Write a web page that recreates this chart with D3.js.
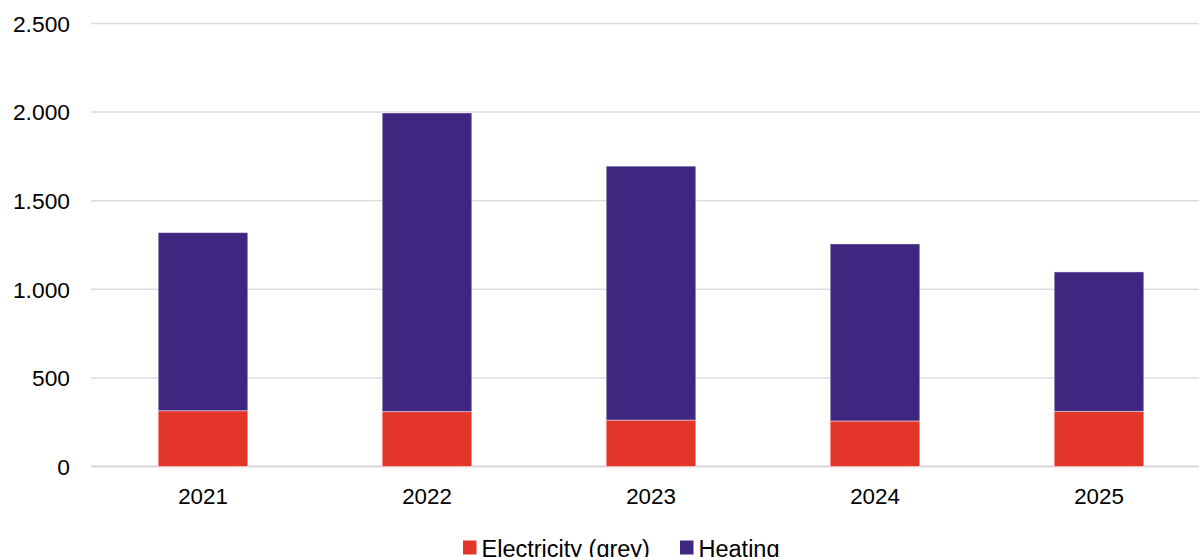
<!DOCTYPE html>
<html>
<head>
<meta charset="utf-8">
<script src="https://cdn.jsdelivr.net/npm/d3@7"></script>
<style>
  html, body { margin: 0; padding: 0; background: #fff; overflow: hidden; }
  svg { display: block; font-family: "Liberation Sans", Arial, sans-serif; }
</style>
</head>
<body>
<svg id="chart" width="1199" height="557"></svg>
<script>
// Yearly emissions split into electricity (grey) and heating
const years = ["2021", "2022", "2023", "2024", "2025"];
const electricity = [315, 310, 262, 257, 311];
const heating = [1005, 1685, 1433, 999, 787];
const yTicks = [0, 500, 1000, 1500, 2000, 2500];
const seriesNames = ["Electricity (grey)", "Heating"];
const seriesColors = ["#E4352A", "#3F2680"];

const svg = d3.select("#chart");
const margin = { left: 91, right: -12, top: 23.5, bottom: 90.5 };
const width = 1199, height = 557;

const x = d3.scaleBand()
  .domain(years)
  .range([margin.left, width - margin.right])
  .paddingInner(0.6)
  .paddingOuter(0.3);

const y = d3.scaleLinear()
  .domain([0, 2500])
  .range([height - margin.bottom, margin.top]);

const fmt = d3.formatLocale({ decimal: ",", thousands: ".", grouping: [3], currency: ["", ""] }).format(",");

// horizontal gridlines
svg.append("g")
  .selectAll("line")
  .data(yTicks)
  .join("line")
  .attr("x1", margin.left)
  .attr("x2", width)
  .attr("y1", d => y(d))
  .attr("y2", d => y(d))
  .attr("stroke", d => d === 0 ? "#d9d6d8" : "#dedbdd")
  .attr("stroke-width", d => d === 0 ? 2 : 1.5);

// y-axis labels
svg.append("g")
  .selectAll("text")
  .data(yTicks)
  .join("text")
  .attr("x", 70)
  .attr("y", d => y(d))
  .attr("dy", "0.36em")
  .attr("text-anchor", "end")
  .attr("font-size", 22.8)
  .attr("fill", "#000")
  .text(d => fmt(d));

// stacked bars
const rows = years.map((yr, i) => ({ year: yr, e: electricity[i], h: heating[i] }));
const stack = d3.stack().keys(["e", "h"])(rows);

svg.append("g")
  .selectAll("g")
  .data(stack)
  .join("g")
  .attr("fill", (d, i) => seriesColors[i])
  .selectAll("rect")
  .data(d => d)
  .join("rect")
  .attr("x", d => x(d.data.year))
  .attr("width", x.bandwidth())
  .attr("y", d => y(d[1]))
  .attr("height", d => y(d[0]) - y(d[1]))
  .attr("stroke", "rgba(255,255,255,0.45)")
  .attr("stroke-width", 1);

// x-axis labels
svg.append("g")
  .selectAll("text")
  .data(years)
  .join("text")
  .attr("x", d => x(d) + x.bandwidth() / 2)
  .attr("y", y(0) + 37)
  .attr("text-anchor", "middle")
  .attr("font-size", 22.3)
  .attr("fill", "#000")
  .text(d => d);

// legend
const legend = svg.append("g").attr("transform", "translate(463, 540.5)");
const legendX = [0, 217];
seriesNames.forEach((name, i) => {
  const g = legend.append("g").attr("transform", `translate(${legendX[i]},0)`);
  g.append("rect").attr("width", 13.5).attr("height", 14).attr("fill", seriesColors[i]);
  g.append("text")
    .attr("x", 18.5)
    .attr("y", 16.2)
    .attr("font-size", 23.5)
    .attr("fill", "#000")
    .text(name);
});
</script>
</body>
</html>
